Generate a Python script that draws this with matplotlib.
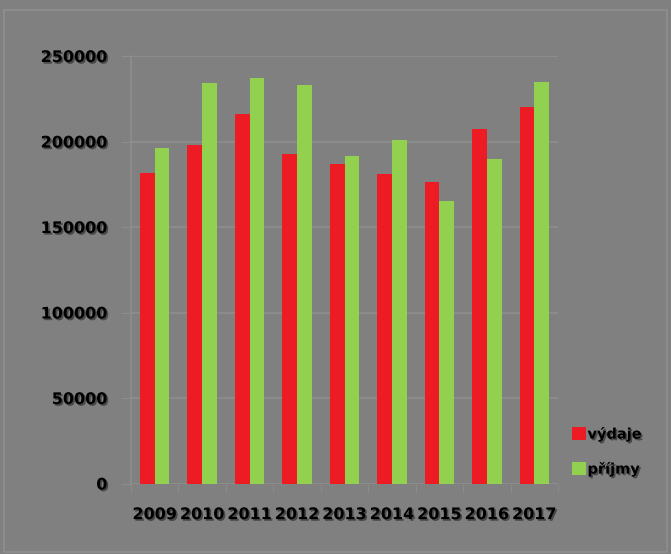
import matplotlib
matplotlib.use("Agg")
import matplotlib.pyplot as plt
import matplotlib.patheffects as pe
from matplotlib.patches import Patch, Rectangle
import numpy as np

years = ["2009", "2010", "2011", "2012", "2013", "2014", "2015", "2016", "2017"]
vydaje = [181500, 198000, 216000, 192700, 186800, 181000, 176300, 207300, 220200]
prijmy = [196200, 234200, 237100, 233000, 191500, 200900, 165200, 189800, 234800]
yticks = [0, 50000, 100000, 150000, 200000, 250000]
series_names = ["výdaje", "příjmy"]

RED = "#ED1C24"
GREEN = "#92D050"
BG = "#808080"
GRID = "#8e8e8e"

fig = plt.figure(figsize=(6.71, 5.54), dpi=100, facecolor=BG)
ax = fig.add_axes([131/671, 1-483.5/554, (558-131)/671, (483.5-56)/554])
ax.set_facecolor(BG)

x = np.arange(len(years))
w = 0.31
ax.bar(x - w/2, vydaje, width=w, color=RED, zorder=3)
ax.bar(x + w/2, prijmy, width=w, color=GREEN, zorder=3)

ax.set_xlim(-0.5, len(years) - 0.5)
ax.set_ylim(0, 250000)
ax.set_yticks(yticks)
ax.set_yticklabels([str(v) for v in yticks])
ax.set_xticks(x)
ax.set_xticklabels(years)
ax.set_xticks(np.arange(-0.5, len(years)), minor=True)

shadow = [pe.SimplePatchShadow(offset=(1.2, -1.2), shadow_rgbFace="#3a3a3a", alpha=0.8), pe.Normal()]
for lab in ax.get_yticklabels() + ax.get_xticklabels():
    lab.set_fontweight("bold")
    lab.set_fontsize(11.5)
    lab.set_color("black")
    lab.set_path_effects(shadow)

ax.grid(axis="y", color=GRID, linewidth=1.2, zorder=0)
for s in ["top", "right", "bottom"]:
    ax.spines[s].set_visible(False)
ax.spines["left"].set_color(GRID)
ax.spines["left"].set_linewidth(1.2)
ax.tick_params(axis="y", length=7, color=GRID, pad=10)
ax.tick_params(axis="x", which="major", length=0, pad=17)
ax.tick_params(axis="x", which="minor", length=6, color=GRID)
ax.axhline(0, color=GRID, linewidth=1.2, zorder=1)

handles = [Patch(facecolor=RED, label=series_names[0]), Patch(facecolor=GREEN, label=series_names[1])]
leg = fig.legend(handles=handles, loc="upper left", bbox_to_anchor=(559/671, 1-412/554),
                 frameon=False, handlelength=0.95, handleheight=0.95, handletextpad=0.1,
                 labelspacing=1.3, prop={"weight": "bold", "size": 10.5})
for t in leg.get_texts():
    t.set_path_effects(shadow)

fig.patches.append(Rectangle((4/671, 2/554), 663/671, 542/554, transform=fig.transFigure,
                             fill=False, edgecolor="#8f8f8f", linewidth=1.2))

fig.savefig("out.png", dpi=100, facecolor=BG)
